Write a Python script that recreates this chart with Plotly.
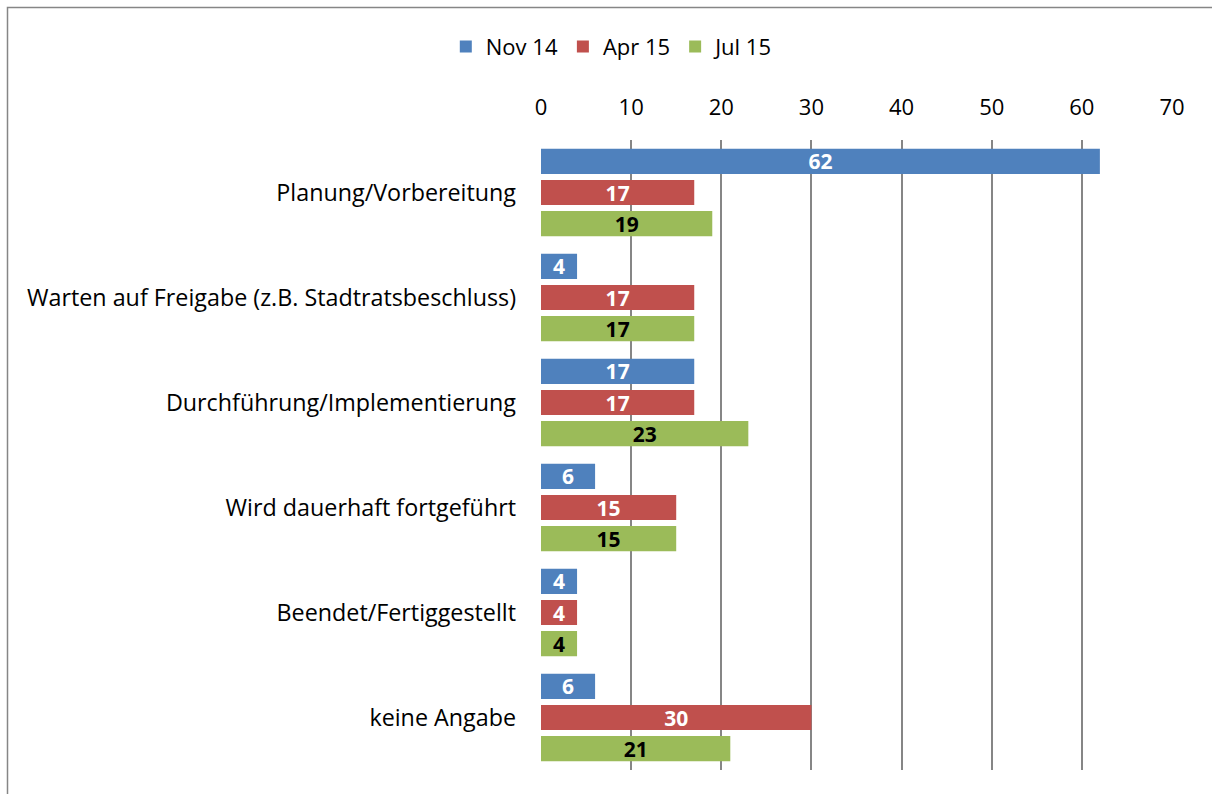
import plotly.graph_objects as go

categories = ["Planung/Vorbereitung", "Warten auf Freigabe (z.B. Stadtratsbeschluss)",
              "Durchführung/Implementierung", "Wird dauerhaft fortgeführt",
              "Beendet/Fertiggestellt", "keine Angabe"]
series_names = ["Nov 14", "Apr 15", "Jul 15"]
nov14 = [62, 4, 17, 6, 4, 6]
apr15 = [17, 17, 17, 15, 4, 30]
jul15 = [19, 17, 23, 15, 4, 21]
x_ticks = [0, 10, 20, 30, 40, 50, 60, 70]

colors = ["#4F81BD", "#C0504D", "#9BBB59"]
label_colors = ["white", "white", "black"]
FONT = "Open Sans"

fig = go.Figure()
for name, vals, c, lc in zip(series_names, [nov14, apr15, jul15], colors, label_colors):
    fig.add_trace(go.Bar(
        y=categories, x=vals, name=name, orientation="h",
        marker=dict(color=c, line=dict(width=0)),
        text=vals, texttemplate="<b>%{text}</b>", textposition="inside",
        insidetextanchor="middle", constraintext="none", textangle=0,
        textfont=dict(family=FONT, size=21, color=lc),
    ))

fig.update_layout(
    width=1212, height=794,
    margin=dict(l=541, r=40, t=140, b=24),
    paper_bgcolor="white", plot_bgcolor="white",
    barmode="group", bargap=0.11, bargroupgap=0.19,
    font=dict(family=FONT, size=22, color="black"),
    legend=dict(orientation="h", x=0.113, y=1.148, xanchor="center", yanchor="middle",
                font=dict(size=22), itemwidth=30),
    showlegend=True,
    xaxis=dict(side="top", range=[0, 70], tickvals=x_ticks, showgrid=True,
               gridcolor="#868686", gridwidth=1.5, zeroline=False, showline=False,
               ticks="", ticklabelstandoff=20, tickfont=dict(size=22)),
    yaxis=dict(autorange="reversed", showgrid=False, zeroline=False, showline=False,
               ticks="", ticklabelstandoff=24, tickfont=dict(size=23.3)),
    shapes=[dict(type="rect", xref="paper", yref="paper",
                 x0=(7.5 - 541) / 631, x1=(1230 - 541) / 631,
                 y0=(770 - 810) / 630, y1=(770 - 7.5) / 630,
                 line=dict(color="#868686", width=1.5), fillcolor="rgba(0,0,0,0)", layer="below")],
)

fig.write_html("out.html", config={"displayModeBar": False},
               post_script="document.body.style.margin='0';document.body.style.overflow='hidden';")
